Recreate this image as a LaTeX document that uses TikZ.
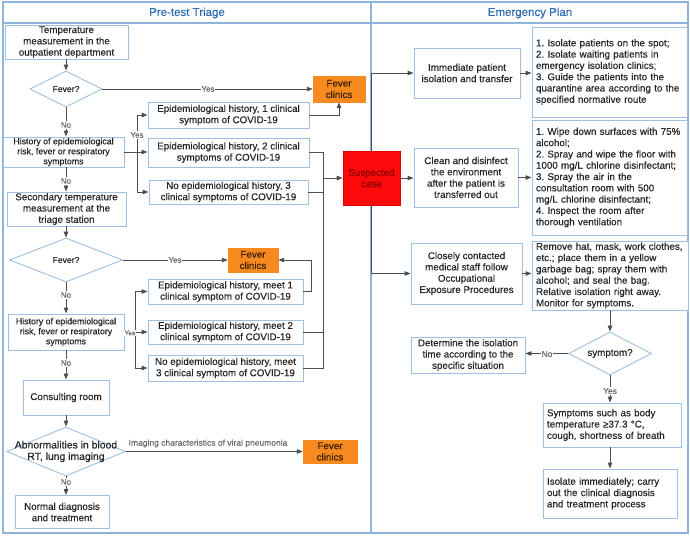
\documentclass[tikz,border=0pt]{standalone}
\usepackage{fontspec}
\setmainfont{Liberation Sans}[FakeBold=0.35]
\usetikzlibrary{shapes.geometric,arrows.meta}
\definecolor{frameblue}{HTML}{8EB4DC}
\definecolor{boxblue}{HTML}{9DC0E3}
\definecolor{titleblue}{HTML}{2E6DB4}
\definecolor{arrowgray}{HTML}{4D4D4D}
\definecolor{labelgray}{HTML}{6A6A6A}
\definecolor{feverorange}{HTML}{F68A1E}
\definecolor{fevertext}{HTML}{3D1F00}
\definecolor{suspred}{HTML}{FF0A0A}
\definecolor{suspborder}{HTML}{E00000}
\definecolor{susptext}{HTML}{8B0000}
\frenchspacing
\begin{document}
\begin{tikzpicture}[x=1pt,y=-1pt,
  every node/.style={font=\fontsize{9.8}{11.3}\selectfont, inner sep=0pt, text=black!85},
  box/.style={draw=boxblue, line width=0.9pt, fill=white, align=center},
  smallbox/.style={box, font=\fontsize{8.8}{10}\selectfont},
  lbox/.style={box, align=left, inner xsep=4pt},
  dia/.style={diamond, draw=boxblue, line width=0.9pt, fill=white, shape aspect=2},
  dtext/.style={align=center, font=\fontsize{8.6}{10}\selectfont},
  fever/.style={fill=feverorange, draw=feverorange, align=center, text=fevertext},
  susp/.style={fill=suspred, draw=suspborder, line width=0.6pt, align=center, text=susptext},
  frame/.style={draw=frameblue, line width=1.2pt},
  title/.style={text=titleblue, font=\fontsize{11.5}{13}\selectfont},
  line/.style={draw=arrowgray, line width=0.9pt},
  arr/.style={line, -{Triangle[length=6pt,width=4.5pt]}},
  lab/.style={fill=white, text=labelgray, font=\fontsize{8}{9}\selectfont, inner sep=0.8pt},
  slab/.style={fill=white, text=labelgray, font=\fontsize{6.5}{7}\selectfont, inner sep=0.5pt}
]
\useasboundingbox (0,0) rectangle (690,536);
% frame
\draw[frame] (3,2) rectangle (688,533);
\draw[frame] (3,23) -- (688,23);
\draw[frame] (371,2) -- (371,533);
\node[title] (tt1) at (187,13) {Pre-test Triage};
\node[title] (tt2) at (530,13) {Emergency Plan};

% left column
\node[box, minimum width=123pt, minimum height=34pt] (t1) at (66.5,42) {Temperature\\measurement in the\\outpatient department};
\node[dia, minimum width=72pt, minimum height=36pt] (d1) at (66,89) {};
\node[dtext] (d1t) at (d1.center) {Fever?};
\node[smallbox, minimum width=121pt, minimum height=30pt] (h1) at (63.5,152) {History of epidemiological\\risk, fever or respiratory\\symptoms};
\node[box, minimum width=161pt, minimum height=26pt] (e1) at (228.5,115) {Epidemiological history, 1 clinical\\symptom of COVID-19};
\node[box, minimum width=161pt, minimum height=29pt] (e2) at (228.5,152.5) {Epidemiological history, 2 clinical\\symptoms of COVID-19};
\node[box, minimum width=159pt, minimum height=24pt] (e3) at (228.5,192) {No epidemiological history, 3\\clinical symptoms of COVID-19};
\node[fever, minimum width=52pt, minimum height=26pt] (f1) at (339,89) {Fever\\clinics};
\node[susp, minimum width=57pt, minimum height=54pt] (sc) at (371.5,178) {Suspected\\case};
\node[box, minimum width=119pt, minimum height=34pt] (s2) at (66.5,209) {Secondary temperature\\measurement at the\\triage station};
\node[dia, minimum width=113pt, minimum height=44pt] (d2) at (66,260) {};
\node[dtext] (d2t) at (d2.center) {Fever?};
\node[fever, minimum width=50pt, minimum height=24pt] (f2) at (253,260) {Fever\\clinics};
\node[smallbox, minimum width=116pt, minimum height=36pt] (h2) at (66,332) {History of epidemiological\\risk, fever or respiratory\\symptoms};
\node[box, minimum width=155pt, minimum height=25pt] (m1) at (225.5,291.5) {Epidemiological history, meet 1\\clinical symptom of COVID-19};
\node[box, minimum width=155pt, minimum height=24pt] (m2) at (225.5,332) {Epidemiological history, meet 2\\clinical symptom of COVID-19};
\node[box, minimum width=155pt, minimum height=26pt] (m3) at (225.5,368) {No epidemiological history, meet\\3 clinical symptom of COVID-19};
\node[box, minimum width=86pt, minimum height=35pt] (cr) at (66,397.5) {Consulting room};
\node[dia, minimum width=119pt, minimum height=49pt] (d3) at (66,451.5) {};
\node[align=center, font=\fontsize{10.4}{11.5}\selectfont] (d3t) at (d3.center) {Abnormalities in blood\\RT, lung imaging};
\node[fever, minimum width=54pt, minimum height=23pt] (f3) at (330,451.5) {Fever\\clinics};
\node[box, minimum width=94pt, minimum height=33pt] (nd) at (62,512) {Normal diagnosis\\and treatment};

% right column
\node[box, minimum width=106pt, minimum height=50pt] (ip) at (467,73) {Immediate patient\\isolation and transfer};
\node[lbox, minimum width=155pt, minimum height=90pt, text width=147pt] (A) at (609.5,72) {1. Isolate patients on the spot;\\2. Isolate waiting patients in\\emergency isolation clinics;\\3. Guide the patients into the\\quarantine area according to the\\specified normative route};
\node[box, minimum width=104pt, minimum height=59pt] (cl) at (466,177.5) {Clean and disinfect\\the environment\\after the patient is\\transferred out};
\node[lbox, minimum width=155pt, minimum height=115pt, text width=147pt] (B) at (609.5,177.5) {1. Wipe down surfaces with 75\%\\alcohol;\\2. Spray and wipe the floor with\\1000 mg/L chlorine disinfectant;\\3. Spray the air in the\\consultation room with 500\\mg/L chlorine disinfectant;\\4. Inspect the room after\\thorough ventilation};
\node[box, minimum width=111pt, minimum height=61pt] (cc) at (466.5,273.5) {Closely contacted\\medical staff follow\\Occupational\\Exposure Procedures};
\node[lbox, minimum width=156pt, minimum height=69pt, text width=148pt] (C) at (610,275.5) {Remove hat, mask, work clothes,\\etc.; place them in a yellow\\garbage bag; spray them with\\alcohol; and seal the bag.\\Relative isolation right away.\\Monitor for symptoms.};
\node[dia, minimum width=83pt, minimum height=43pt] (sy) at (610,353.5) {};
\node[align=center] (syt) at (sy.center) {symptom?};
\node[box, minimum width=114pt, minimum height=36pt] (dt) at (468,355) {Determine the isolation\\time according to the\\specific situation};
\node[lbox, minimum width=138pt, minimum height=44pt, text width=130pt] (ss) at (612,425) {Symptoms such as body\\temperature ≥37.3 °C,\\cough, shortness of breath};
\node[lbox, minimum width=134pt, minimum height=49pt, text width=126pt] (iso) at (610,493.5) {Isolate immediately; carry\\out the clinical diagnosis\\and treatment process};

% junction coordinates
\coordinate (j1) at (137,152);
\coordinate (j2) at (323,178);
\coordinate (j3) at (135,332);
\coordinate (j4) at (311,260);

% left connectors
\draw[arr] (t1.south -| d1.north) -- (d1.north);
\draw[arr] (d1.south) -- (d1.south |- h1.north);
\node[lab] (n1) at (66,125) {No};
\draw[arr] (d1.east) -- (f1.west);
\node[lab] (y1) at (208,89) {Yes};
\draw[line] (h1.east) -- (j1);
\draw[line] (j1 |- e1.west) -- (j1 |- e3.west);
\draw[arr] (j1 |- e1.west) -- (e1.west);
\draw[arr] (j1) -- (j1 -| e2.west);
\draw[arr] (j1 |- e3.west) -- (e3.west);
\node[lab] (y2) at (137,135) {Yes};
\draw[arr] (e1.east) -| (f1.south);
\draw[line] (e2.east) -| (j2 |- m3.east) -- (m3.east);
\draw[line] (e3.east) -- (e3.east -| j2);
\draw[line] (m2.east) -- (m2.east -| j2);
\draw[arr] (j2) -- (j2 -| sc.west);

\draw[arr] (d1.south |- h1.south) -- (d1.south |- s2.north);
\node[lab] (n2) at (66,181) {No};
\draw[arr] (d1.south |- s2.south) -- (d2.north);
\draw[arr] (d2.east) -- (f2.west);
\node[lab] (y3) at (175,260) {Yes};
\draw[arr] (d2.south) -- (d2.south |- h2.north);
\node[lab] (n3) at (66,295) {No};
\draw[line] (h2.east) -- (j3);
\draw[line] (j3 |- m1.west) -- (j3 |- m3.west);
\draw[arr] (j3 |- m1.west) -- (m1.west);
\draw[arr] (j3) -- (j3 -| m2.west);
\draw[arr] (j3 |- m3.west) -- (m3.west);
\node[slab] (y4) at (130,333) {Yes};
\draw[arr] (m1.east) -| (j4) -- (f2.east);
\draw[arr] (h2.south) -- (cr.north);
\node[lab] (n4) at (66,363) {No};
\draw[arr] (cr.south) -- (d3.north);
\draw[arr] (d3.east) -- (f3.west);
\node[text=labelgray, font=\fontsize{8.5}{9}\selectfont] (il) at (208,443.5) {Imaging characteristics of viral pneumonia};
\draw[arr] (d3.south) -- (d3.south |- nd.north);
\node[lab] (n5) at (66,482) {No};

% right connectors
\draw[arr] (sc.north) |- (ip.west);
\draw[arr] (sc.east) -- (sc.east -| cl.west);
\draw[arr] (sc.south) |- (cc.west);
\draw[arr] (ip.east) -- (ip.east -| A.west);
\draw[arr] (cl.east) -- (cl.east -| B.west);
\draw[arr] (cc.east) -- (cc.east -| C.west);
\draw[arr] (C.south) -- (sy.north);
\draw[arr] (sy.west) -- (sy.west -| dt.east);
\node[lab, font=\fontsize{8.5}{9}\selectfont] (n6) at (547,354) {No};
\draw[arr] (sy.south) -- (sy.south |- ss.north);
\node[lab, font=\fontsize{8.5}{9}\selectfont] (y5) at (610,391) {Yes};
\draw[arr] (sy.south |- ss.south) -- (sy.south |- iso.north);
\end{tikzpicture}
\end{document}
